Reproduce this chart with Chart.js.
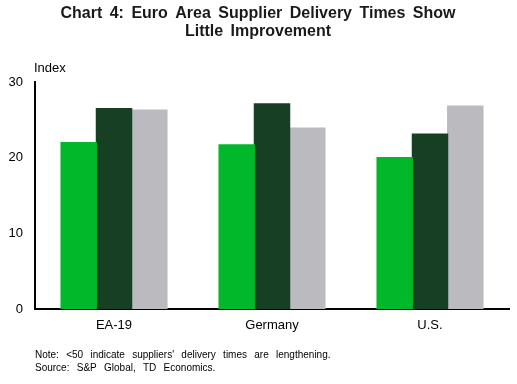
<!DOCTYPE html>
<html>
<head>
<meta charset="utf-8">
<script src="https://cdn.jsdelivr.net/npm/chart.js@4/dist/chart.umd.min.js"></script>
<style>
  html, body { margin: 0; padding: 0; background: #fff; }
  #wrap { position: relative; width: 517px; height: 384px; }
</style>
</head>
<body>
<div id="wrap"><canvas id="c" width="517" height="384"></canvas></div>
<script>
const categories = ['EA-19', 'Germany', 'U.S.'];
const seriesNames = ['Series A', 'Series B', 'Series C'];
const seriesA = [22.0, 21.7, 20.0];
const seriesB = [26.5, 27.1, 23.1];
const seriesC = [26.3, 23.9, 26.8];
const yTicks = [0, 10, 20, 30];
const titleLines = ['Chart 4: Euro Area Supplier Delivery Times Show', 'Little Improvement'];
const yAxisLabel = 'Index';
const noteLines = ["Note: <50 indicate suppliers' delivery times are lengthening.", 'Source: S&P Global, TD Economics.'];

const textPlugin = {
  id: 'texts',
  afterDraw(chart) {
    const ctx = chart.ctx;
    const area = chart.chartArea;
    ctx.save();
    ctx.fillStyle = '#1a1a1a';
    ctx.font = 'bold 16px "Liberation Sans", Arial, sans-serif';
    ctx.textAlign = 'center';
    ctx.textBaseline = 'middle';
    ctx.wordSpacing = '3px';
    ctx.fillText(titleLines[0], 258, 14);
    ctx.fillText(titleLines[1], 258, 32);
    ctx.wordSpacing = '0px';
    ctx.fillStyle = '#000';
    ctx.font = '13px "Liberation Sans", Arial, sans-serif';
    ctx.textAlign = 'left';
    ctx.fillText(yAxisLabel, area.left - 1, 68);
    ctx.font = '10px "Liberation Sans", Arial, sans-serif';
    ctx.wordSpacing = '4.5px';
    ctx.fillText(noteLines[0], area.left, 355);
    ctx.fillText(noteLines[1], area.left, 368);
    ctx.restore();
  }
};

new Chart(document.getElementById('c'), {
  type: 'bar',
  data: {
    labels: categories,
    datasets: [
      { label: seriesNames[0], data: seriesA, backgroundColor: '#00B82A' },
      { label: seriesNames[1], data: seriesB, backgroundColor: '#173F24' },
      { label: seriesNames[2], data: seriesC, backgroundColor: '#BBBBBF' }
    ]
  },
  options: {
    responsive: false,
    animation: false,
    devicePixelRatio: 1,
    layout: { padding: { top: 82, left: 0, right: 8, bottom: 0 } },
    plugins: { legend: { display: false }, title: { display: false }, tooltip: { enabled: false } },
    datasets: { bar: { categoryPercentage: 0.67, barPercentage: 1.0, borderWidth: 0, inflateAmount: 0.6 } },
    scales: {
      x: {
        grid: { display: false, drawTicks: false },
        border: { color: '#000', width: 2 },
        ticks: { color: '#000', font: { family: '"Liberation Sans", Arial, sans-serif', size: 13 }, padding: 9 },
        afterFit(s) { s.height = 75; }
      },
      y: {
        min: 0, max: 30,
        grid: { display: false, drawTicks: false },
        border: { color: '#000', width: 2 },
        afterBuildTicks(s) { s.ticks = yTicks.map(v => ({ value: v })); },
        ticks: { color: '#000', font: { family: '"Liberation Sans", Arial, sans-serif', size: 13 }, padding: 12 },
        afterFit(s) { s.width = 35; }
      }
    }
  },
  plugins: [textPlugin]
});
</script>
</body>
</html>
